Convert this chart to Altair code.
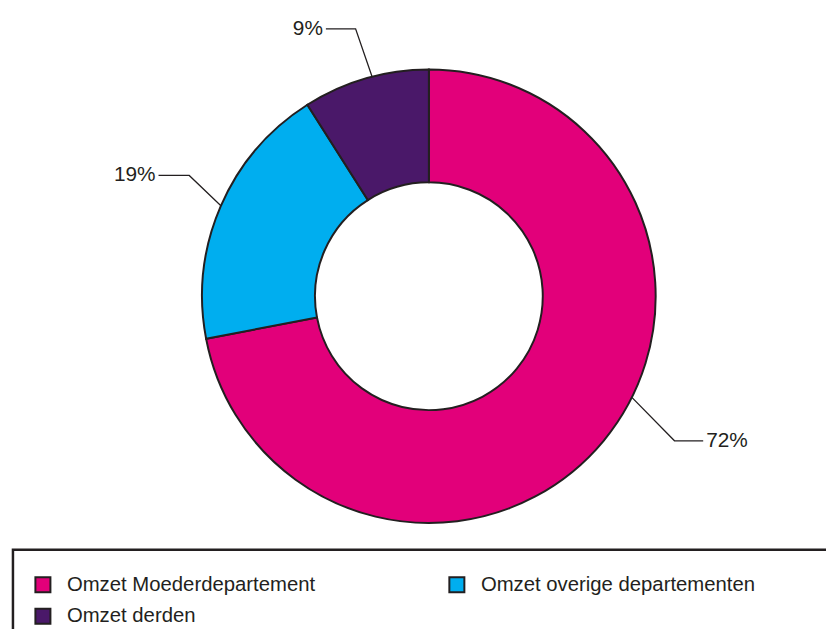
import math
import altair as alt
import pandas as pd

# ---- data ----
categories = ["Omzet Moederdepartement", "Omzet overige departementen", "Omzet derden"]
shares = [72, 19, 9]
labels = ["72%", "19%", "9%"]
colors = ["#E2007A", "#00AEEF", "#4A1869"]
legend_order = ["Omzet Moederdepartement", "Omzet derden", "Omzet overige departementen"]
legend_colors = ["#E2007A", "#4A1869", "#00AEEF"]

# ---- label layout (chart pixel space) ----
anchor_angle = [116.5, 293.5, 345.5]
elbow_x = [673, 183, 351]
elbow_y = [434, 166, 18]
end_x = [702, 152, 321]
side = ["left", "right", "right"]

W, H = 826, 624
CX, CY = 425, 288
R_OUT, R_IN = 229, 115
INK = "#231F20"
FONT = "Liberation Sans"

df = pd.DataFrame({"category": categories, "share": shares, "idx": range(len(shares))})

rows = []
for i, lab in enumerate(labels):
    a = math.radians(anchor_angle[i])
    ax = CX + R_OUT * math.sin(a)
    ay = CY - R_OUT * math.cos(a)
    rows.append({"label": lab, "step": 0, "x": ax, "y": ay})
    rows.append({"label": lab, "step": 1, "x": elbow_x[i], "y": elbow_y[i]})
    rows.append({"label": lab, "step": 2, "x": end_x[i], "y": elbow_y[i]})
lines_df = pd.DataFrame(rows)

text_df = pd.DataFrame({
    "label": labels,
    "x": [end_x[i] + (3 if side[i] == "left" else -3) for i in range(3)],
    "y": elbow_y,
    "side": side,
})

xs = alt.Scale(domain=[0, W], nice=False, zero=False)
ys = alt.Scale(domain=[0, H], nice=False, zero=False, reverse=True)

arc = alt.Chart(df).mark_arc(
    innerRadius=R_IN, outerRadius=R_OUT, stroke=INK, strokeWidth=2
).encode(
    theta=alt.Theta("share:Q", stack=True),
    color=alt.Color(
        "category:N",
        scale=alt.Scale(domain=legend_order, range=legend_colors),
        legend=alt.Legend(
            orient="none", legendX=25, legendY=569, columns=2, title=None,
            symbolType="square", symbolSize=230, symbolStrokeWidth=2,
            symbolStrokeColor=INK, symbolOpacity=1,
            labelFont=FONT, labelFontSize=20.5, labelColor=INK,
            labelOffset=14, columnPadding=130, rowPadding=8, labelLimit=0,
        ),
    ),
    order=alt.Order("idx:Q"),
    x=alt.value(CX),
    y=alt.value(CY),
)

lines = alt.Chart(lines_df).mark_line(color=INK, strokeWidth=1.3).encode(
    x=alt.X("x:Q", scale=xs, axis=None),
    y=alt.Y("y:Q", scale=ys, axis=None),
    detail="label:N",
    order="step:Q",
)

text_r = alt.Chart(text_df).transform_filter(alt.datum.side == "right").mark_text(
    align="right", baseline="middle", font=FONT, fontSize=21, color=INK
).encode(
    x=alt.X("x:Q", scale=xs, axis=None),
    y=alt.Y("y:Q", scale=ys, axis=None),
    text="label:N",
)

text_l = alt.Chart(text_df).transform_filter(alt.datum.side == "left").mark_text(
    align="left", baseline="middle", font=FONT, fontSize=21, color=INK
).encode(
    x=alt.X("x:Q", scale=xs, axis=None),
    y=alt.Y("y:Q", scale=ys, axis=None),
    text="label:N",
)

box = alt.Chart(pd.DataFrame({"a": [0]})).mark_rect(
    fill=None, stroke=INK, strokeWidth=2.5, clip=True
).encode(
    x=alt.value(5), x2=alt.value(W + 60), y=alt.value(544), y2=alt.value(H + 60)
)

chart = alt.layer(box, arc, lines, text_r, text_l).properties(
    width=W, height=H, padding=0, autosize="none", background="white"
).configure_view(stroke=None)

chart.save("out.html", embed_options={"renderer": "svg", "actions": False})
